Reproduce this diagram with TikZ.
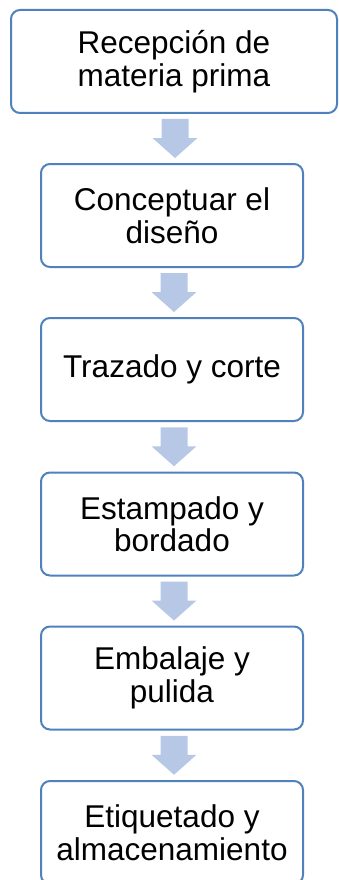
\documentclass[tikz,border=0pt]{standalone}
\usepackage{fontspec}
\setmainfont{Liberation Sans}
\usetikzlibrary{calc}
\definecolor{borde}{RGB}{79,129,189}
\definecolor{relleno}{RGB}{182,200,230}
\tikzset{
  paso/.style={
    draw=borde, fill=white, rectangle, rounded corners=9pt, line width=2pt,
    minimum height=103pt, minimum width=262pt, align=center, inner sep=0pt,
    font=\fontsize{31.5}{32.5}\selectfont
  },
  flecha/.style={
    fill=relleno, draw=none
  }
}

\begin{document}
\begin{tikzpicture}[x=1pt, y=-1pt]
 \useasboundingbox (0, 0) rectangle (338, 880);
 \node[paso, minimum width=326pt] (rec) at (174, 61.5) {Recepción de\\materia prima};
 \node[paso] (con) at (172, 215.5) {Conceptuar el\\diseño};
 \node[paso] (tra) at (172, 369.5) {Trazado y corte};
 \node[paso] (est) at (172, 524) {Estampado y\\bordado};
 \node[paso] (emb) at (172, 678) {Embalaje y\\pulida};
 \node[paso] (eti) at (172, 832.5) {Etiquetado y\\almacenamiento};

 \foreach \a/\b in {rec/con, con/tra, tra/est, est/emb, emb/eti} {
   \coordinate (m) at ($(\a.south)!0.5!(\b.north)$);
   \fill[flecha] ($(m)+(-11.5,-19.5)$) -- ($(m)+(15.5,-19.5)$)
     -- ($(m)+(15.5,-0.5)$) -- ($(m)+(24.5,-0.5)$) -- ($(m)+(2,19.5)$)
     -- ($(m)+(-20.5,-0.5)$) -- ($(m)+(-11.5,-0.5)$) -- cycle;
  }

\end{tikzpicture}
\end{document}
